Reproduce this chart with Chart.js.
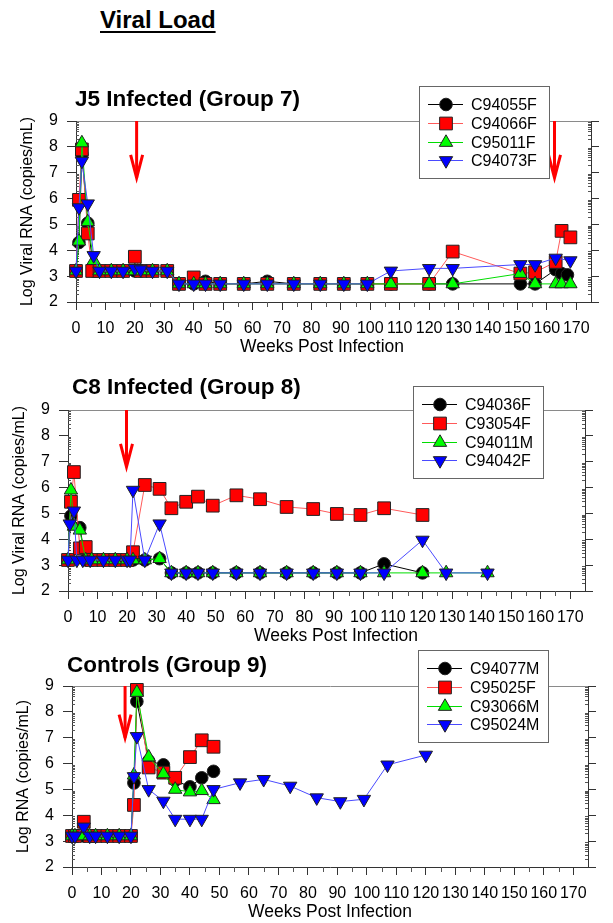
<!DOCTYPE html>
<html>
<head>
<meta charset="utf-8">
<title>Viral Load</title>
<script src="https://cdn.jsdelivr.net/npm/chart.js@4.4.1/dist/chart.umd.min.js"></script>
<style>
  html, body { margin: 0; padding: 0; background: #fff; }
  body { width: 613px; height: 923px; position: relative; overflow: hidden; font-family: "Liberation Sans", Arial, sans-serif; }
  canvas { position: absolute; left: 0; }
  .head { position: absolute; margin: 0; font-weight: bold; white-space: nowrap; color: #000; z-index: 2; }
  #page-title { left: 100px; top: 8px; font-size: 24px; line-height: 24px; text-decoration: underline; text-decoration-thickness: 2px; text-underline-offset: 3px; }
  .panel-title { font-size: 22.5px; line-height: 22px; }
</style>
</head>
<body>
<div id="page-title" class="head">Viral Load</div>
<div class="head panel-title" style="left:75px;top:88px">J5 Infected (Group 7)</div>
<div class="head panel-title" style="left:72px;top:376px">C8 Infected (Group 8)</div>
<div class="head panel-title" style="left:67px;top:654px">Controls (Group 9)</div>

<canvas id="panelJ5" width="613" height="290" style="top:80px"></canvas>
<canvas id="panelC8" width="613" height="289" style="top:370px"></canvas>
<canvas id="panelCtl" width="613" height="278" style="top:645px"></canvas>

<script>
const X_TICKS = [0, 10, 20, 30, 40, 50, 60, 70, 80, 90, 100, 110, 120, 130, 140, 150, 160, 170];
const Y_TICKS = [2, 3, 4, 5, 6, 7, 8, 9];

// J5 infected (group 7)
const j5Names = ["C94055F", "C94066F", "C95011F", "C94073F"];
const j5Weeks_C94055F = [0, 1, 2, 4, 6, 8, 12, 16, 20, 22, 26, 31, 35, 40, 44, 49, 57, 65, 74, 83, 91, 99, 107, 120, 128, 151, 156, 163, 165, 167];
const j5Load_C94055F  = [3.2, 4.3, 7.7, 5.05, 3.2, 3.2, 3.2, 3.2, 3.2, 3.2, 3.2, 3.2, 2.7, 2.7, 2.8, 2.7, 2.7, 2.8, 2.7, 2.7, 2.7, 2.7, 2.7, 2.7, 2.7, 2.7, 2.7, 3.25, 3.1, 3.05];
const j5Weeks_C94066F = [0, 1, 2, 4, 5.5, 8, 12, 16, 20, 22, 26, 31, 35, 40, 44, 49, 57, 65, 74, 83, 91, 99, 107, 120, 128, 151, 156, 163, 165, 168];
const j5Load_C94066F  = [3.2, 5.95, 7.9, 4.65, 3.2, 3.2, 3.2, 3.2, 3.75, 3.2, 3.2, 3.2, 2.7, 2.95, 2.7, 2.7, 2.7, 2.7, 2.7, 2.7, 2.7, 2.7, 2.7, 2.7, 3.95, 3.1, 3.15, 3.55, 4.75, 4.5];
const j5Weeks_C95011F = [0, 1, 2, 4, 6, 8, 12, 16, 20, 22, 26, 31, 35, 40, 44, 49, 57, 65, 74, 83, 91, 99, 107, 120, 128, 151, 156, 163, 165, 168];
const j5Load_C95011F  = [3.2, 4.35, 8.15, 5.1, 3.6, 3.2, 3.2, 3.2, 3.2, 3.2, 3.2, 3.2, 2.7, 2.7, 2.7, 2.7, 2.7, 2.7, 2.7, 2.7, 2.7, 2.7, 2.7, 2.7, 2.7, 3.1, 2.7, 2.7, 2.7, 2.7];
const j5Weeks_C94073F = [0, 1, 2, 4, 6, 8, 12, 16, 20, 22, 26, 31, 35, 40, 44, 49, 57, 65, 74, 83, 91, 99, 107, 120, 128, 151, 156, 163, 168];
const j5Load_C94073F  = [3.2, 5.65, 7.45, 5.8, 3.8, 3.2, 3.2, 3.2, 3.3, 3.25, 3.2, 3.2, 2.7, 2.7, 2.7, 2.7, 2.7, 2.7, 2.7, 2.7, 2.7, 2.7, 3.2, 3.3, 3.3, 3.45, 3.45, 3.7, 3.6];
const j5ArrowWeeks = [20.6, 162.6];
const j5ArrowTips = [6.8, 6.8];

// C8 infected (group 8)
const c8Names = ["C94036F", "C93054F", "C94011M", "C94042F"];
const c8Weeks_C94036F = [0, 1, 4, 6, 8, 12, 16, 20, 22, 26, 31, 35, 40, 44, 49, 57, 65, 74, 83, 91, 99, 107, 120];
const c8Load_C94036F  = [3.2, 4.9, 4.45, 3.2, 3.2, 3.2, 3.2, 3.2, 3.2, 3.2, 3.25, 2.7, 2.7, 2.7, 2.7, 2.7, 2.7, 2.7, 2.7, 2.7, 2.7, 3.05, 2.7];
const c8Weeks_C93054F = [0, 1, 2, 4, 6, 8, 12, 16, 20, 22, 26, 31, 35, 40, 44, 49, 57, 65, 74, 83, 91, 99, 107, 120];
const c8Load_C93054F  = [3.2, 5.45, 6.6, 3.65, 3.7, 3.2, 3.2, 3.2, 3.2, 3.5, 6.1, 5.95, 5.2, 5.45, 5.65, 5.3, 5.7, 5.55, 5.25, 5.17, 4.98, 4.94, 5.2, 4.94];
const c8Weeks_C94011M = [0, 1, 2, 4, 6, 8, 12, 16, 20, 22, 26, 31, 35, 40, 44, 49, 57, 65, 74, 83, 91, 99, 107, 120, 128, 142];
const c8Load_C94011M  = [3.2, 5.9, 4.5, 4.35, 3.2, 3.2, 3.2, 3.2, 3.2, 3.2, 3.2, 3.25, 2.7, 2.7, 2.7, 2.7, 2.7, 2.7, 2.7, 2.7, 2.7, 2.7, 2.7, 2.7, 2.7, 2.7];
const c8Weeks_C94042F = [0, 0.6, 2, 3, 5, 7.5, 12, 16, 20, 21, 22, 26, 31, 35, 40, 44, 49, 57, 65, 74, 83, 91, 99, 107, 120, 128, 142];
const c8Load_C94042F  = [3.2, 4.6, 5.1, 3.2, 3.2, 3.2, 3.2, 3.2, 3.2, 3.2, 5.9, 3.2, 4.6, 2.7, 2.7, 2.7, 2.7, 2.7, 2.7, 2.7, 2.7, 2.7, 2.7, 2.7, 3.97, 2.7, 2.7];
const c8ArrowWeeks = [19.8];
const c8ArrowTips = [6.8];

// controls (group 9)
const ctlNames = ["C94077M", "C95025F", "C93066M", "C95024M"];
const ctlWeeks_C94077M = [0, 1, 4, 6, 8, 12, 16, 20, 21, 22, 26, 31, 35, 40, 44, 48];
const ctlLoad_C94077M  = [3.2, 3.2, 3.2, 3.2, 3.2, 3.2, 3.2, 3.2, 5.25, 8.4, 6.1, 5.95, 5.35, 5.1, 5.45, 5.7];
const ctlWeeks_C95025F = [0, 1, 4, 6, 8, 12, 16, 20, 21, 22, 26, 31, 35, 40, 44, 48];
const ctlLoad_C95025F  = [3.2, 3.2, 3.75, 3.2, 3.2, 3.2, 3.2, 3.2, 4.4, 8.85, 5.85, 5.65, 5.45, 6.25, 6.9, 6.65];
const ctlWeeks_C93066M = [0, 1, 4, 6, 8, 12, 16, 20, 21, 22, 26, 31, 35, 40, 44, 48];
const ctlLoad_C93066M  = [3.2, 3.2, 3.2, 3.2, 3.2, 3.2, 3.2, 3.2, 5.55, 8.75, 6.25, 5.6, 5.0, 4.9, 4.95, 4.6];
const ctlWeeks_C95024M = [0, 1, 4, 6, 8, 12, 16, 20, 21, 22, 26, 31, 35, 40, 44, 48, 57, 65, 74, 83, 91, 99, 107, 120];
const ctlLoad_C95024M  = [3.2, 3.2, 3.55, 3.2, 3.2, 3.2, 3.2, 3.2, 5.5, 7.05, 5.0, 4.55, 3.85, 3.85, 3.85, 5.0, 5.26, 5.39, 5.13, 4.68, 4.53, 4.62, 5.95, 6.33];
const ctlArrowWeeks = [18];
const ctlArrowTips = [7.0];

const FONT = "'Liberation Sans', Arial, sans-serif";
const AXIS_COLOR = "#333";
const X_TITLE = "Weeks Post Infection";

// one look per position in a group: circle, square, triangle, inverted triangle
const SERIES_STYLE = [
  { line: "#000000", fill: "#000000", pointStyle: "circle", radius: 6.3, rotation: 0 },
  { line: "#ff5a5a", fill: "#ff0000", pointStyle: "rect", radius: 9, rotation: 0 },
  { line: "#00dd00", fill: "#00ff00", pointStyle: "triangle", radius: 7.7, rotation: 0 },
  { line: "#4a4aff", fill: "#0000ff", pointStyle: "triangle", radius: 7.7, rotation: 180 },
];

function makeDataset(name, weeks, loads, i) {
  const s = SERIES_STYLE[i];
  return {
    label: name,
    data: weeks.map((w, k) => ({ x: w, y: loads[k] })),
    borderColor: s.line,
    borderWidth: 1,
    backgroundColor: s.fill,
    pointBackgroundColor: s.fill,
    pointBorderColor: "#222",
    pointBorderWidth: 1,
    pointStyle: s.pointStyle,
    pointRadius: s.radius,
    pointRotation: s.rotation,
    tension: 0,
    clip: false,
    order: 4 - i,
  };
}

const axisDecor = {
  id: "axisDecor",
  beforeDatasetsDraw(chart, args, opts) {
    const { ctx, chartArea: a, scales: { x, y } } = chart;
    ctx.save();
    // log-style minor ticks inside both y axes, half-step ticks under x
    ctx.strokeStyle = "#555";
    ctx.lineWidth = 1;
    ctx.beginPath();
    for (let n = 2; n < 9; n++) {
      for (let k = 2; k < 10; k++) {
        const py = Math.round(y.getPixelForValue(n + Math.log10(k))) + 0.5;
        ctx.moveTo(a.left, py); ctx.lineTo(a.left + 3, py);
        ctx.moveTo(a.right, py); ctx.lineTo(a.right - 3, py);
      }
    }
    for (let w = 5; w < 175; w += 10) {
      const px = Math.round(x.getPixelForValue(w)) + 0.5;
      ctx.moveTo(px, a.bottom); ctx.lineTo(px, a.bottom + 5);
    }
    ctx.stroke();

    // x axis title (sits a little off the axis centre in the original)
    ctx.fillStyle = "#000";
    ctx.font = "17.5px " + FONT;
    ctx.textAlign = "center";
    ctx.textBaseline = "middle";
    ctx.fillText(X_TITLE, opts.xTitleCenter, a.bottom + 45.5);
    ctx.restore();
  },
  afterDatasetsDraw(chart, args, opts) {
    const { ctx, scales: { x, y } } = chart;
    ctx.save();

    // red arrows
    ctx.strokeStyle = "#ff0000";
    ctx.lineWidth = 3;
    opts.arrowWeeks.forEach((w, i) => {
      const px = x.getPixelForValue(w);
      const top = y.getPixelForValue(9);
      const tip = y.getPixelForValue(opts.arrowTips[i]);
      ctx.beginPath();
      ctx.moveTo(px, top);
      ctx.lineTo(px, tip);
      ctx.stroke();
      ctx.beginPath();
      ctx.moveTo(px - 6, tip - 23);
      ctx.lineTo(px, tip);
      ctx.lineTo(px + 6, tip - 23);
      ctx.stroke();
    });

    // boxed legend
    const L = opts.legendLeft, T = opts.legendTop;
    ctx.fillStyle = "#fff";
    ctx.fillRect(L, T, 130, 92);
    ctx.strokeStyle = "#666";
    ctx.lineWidth = 1;
    ctx.strokeRect(L + 0.5, T + 0.5, 130, 92);
    ctx.font = "16px " + FONT;
    ctx.textBaseline = "middle";
    chart.data.datasets.forEach((ds, i) => {
      const ry = Math.round(T + 18 + i * 18.8) + 0.5;
      ctx.strokeStyle = ds.borderColor;
      ctx.lineWidth = 1;
      ctx.beginPath();
      ctx.moveTo(L + 9, ry);
      ctx.lineTo(L + 44, ry);
      ctx.stroke();
      ctx.fillStyle = ds.pointBackgroundColor;
      ctx.strokeStyle = ds.pointBorderColor;
      Chart.helpers.drawPoint(ctx, {
        pointStyle: ds.pointStyle,
        rotation: ds.pointRotation,
        radius: ds.pointRadius,
        borderWidth: 1,
      }, L + 27, ry);
      ctx.fillStyle = "#000";
      ctx.fillText(ds.label, L + 52, ry + 1);
    });
    ctx.restore();
  },
};

function buildPanel(canvasId, cfg) {
  const tickFont = { family: FONT, size: 16 };
  return new Chart(document.getElementById(canvasId), {
    type: "line",
    data: {
      datasets: cfg.names.map((name, i) => makeDataset(name, cfg.weeks[i], cfg.loads[i], i)),
    },
    options: {
      responsive: false,
      animation: false,
      events: [],
      layout: { padding: { top: cfg.padTop, left: 0, right: 0, bottom: 0 } },
      plugins: {
        legend: { display: false },
        tooltip: { enabled: false },
        axisDecor: {
          arrowWeeks: cfg.arrowWeeks,
          arrowTips: cfg.arrowTips,
          legendLeft: cfg.legendLeft,
          legendTop: cfg.legendTop,
          xTitleCenter: cfg.xTitleCenter,
        },
      },
      scales: {
        x: {
          type: "linear",
          position: "bottom",
          min: 0,
          max: 175,
          afterBuildTicks: (s) => { s.ticks = X_TICKS.map((v) => ({ value: v })); },
          afterFit: (s) => { s.height = cfg.xHeight; },
          ticks: { font: tickFont, color: "#000", padding: 9, maxRotation: 0, autoSkip: false },
          grid: { drawOnChartArea: false, tickLength: 8, color: AXIS_COLOR },
          border: { color: AXIS_COLOR },
        },
        xTop: {
          type: "linear",
          position: "top",
          min: 0,
          max: 175,
          afterFit: (s) => { s.height = 0; },
          ticks: { display: false },
          grid: { drawOnChartArea: false, drawTicks: false },
          border: { color: "#8a8a8a" },
        },
        y: {
          type: "linear",
          position: "left",
          min: 2,
          max: 9,
          afterBuildTicks: (s) => { s.ticks = Y_TICKS.map((v) => ({ value: v })); },
          afterFit: (s) => { s.width = cfg.left; },
          ticks: { font: tickFont, color: "#000", padding: 9 },
          grid: { drawOnChartArea: false, tickLength: 9, color: AXIS_COLOR },
          border: { color: AXIS_COLOR },
          title: {
            display: true,
            text: cfg.yTitle,
            color: "#000",
            font: { family: FONT, size: 16, lineHeight: 1 },
            padding: { top: cfg.left - 48 - 8, bottom: 0 },
          },
        },
        yRight: {
          type: "linear",
          position: "right",
          min: 2,
          max: 9,
          afterBuildTicks: (s) => { s.ticks = Y_TICKS.map((v) => ({ value: v })); },
          afterFit: (s) => { s.width = 613 - cfg.right; },
          ticks: { display: false },
          grid: { drawOnChartArea: false, tickLength: 8, color: AXIS_COLOR },
          border: { color: AXIS_COLOR },
        },
      },
    },
    plugins: [axisDecor],
  });
}

buildPanel("panelJ5", {
  names: j5Names,
  weeks: [j5Weeks_C94055F, j5Weeks_C94066F, j5Weeks_C95011F, j5Weeks_C94073F],
  loads: [j5Load_C94055F, j5Load_C94066F, j5Load_C95011F, j5Load_C94073F],
  arrowWeeks: j5ArrowWeeks,
  arrowTips: j5ArrowTips,
  yTitle: "Log Viral RNA (copies/mL)",
  left: 76, right: 591, padTop: 41, xHeight: 68,
  legendLeft: 419, legendTop: 6, xTitleCenter: 322,
});

buildPanel("panelC8", {
  names: c8Names,
  weeks: [c8Weeks_C94036F, c8Weeks_C93054F, c8Weeks_C94011M, c8Weeks_C94042F],
  loads: [c8Load_C94036F, c8Load_C93054F, c8Load_C94011M, c8Load_C94042F],
  arrowWeeks: c8ArrowWeeks,
  arrowTips: c8ArrowTips,
  yTitle: "Log Viral RNA (copies/mL)",
  left: 68, right: 585, padTop: 40, xHeight: 68,
  legendLeft: 413, legendTop: 16, xTitleCenter: 336,
});

buildPanel("panelCtl", {
  names: ctlNames,
  weeks: [ctlWeeks_C94077M, ctlWeeks_C95025F, ctlWeeks_C93066M, ctlWeeks_C95024M],
  loads: [ctlLoad_C94077M, ctlLoad_C95025F, ctlLoad_C93066M, ctlLoad_C95024M],
  arrowWeeks: ctlArrowWeeks,
  arrowTips: ctlArrowTips,
  yTitle: "Log RNA (copies/mL)",
  left: 72, right: 588, padTop: 41, xHeight: 56,
  legendLeft: 418, legendTop: 5, xTitleCenter: 330,
});
</script>
</body>
</html>
